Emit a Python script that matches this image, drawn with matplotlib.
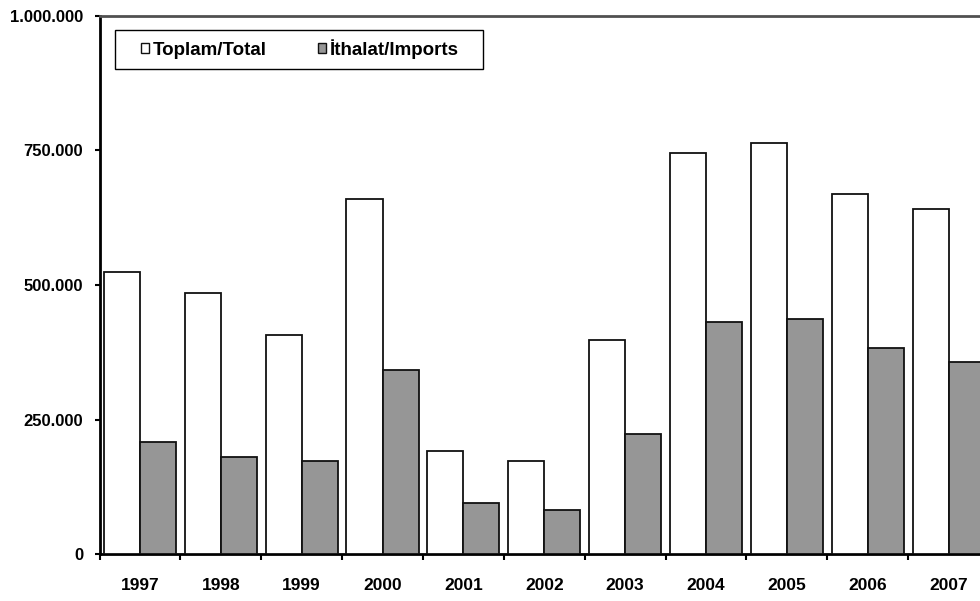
import numpy as np
import matplotlib
matplotlib.use("Agg")
import matplotlib.pyplot as plt
from matplotlib.patches import Rectangle
from matplotlib.ticker import FuncFormatter, FixedLocator

plt.rcParams['font.family'] = ['Liberation Sans', 'DejaVu Sans']
plt.rcParams['font.weight'] = 'bold'

years = ["1997", "1998", "1999", "2000", "2001", "2002", "2003", "2004", "2005", "2006", "2007"]
total = [523600, 485700, 406600, 660200, 192400, 173800, 397900, 744500, 763100, 668400, 641100]
imports = [208000, 181200, 173200, 341600, 94700, 82800, 223400, 431900, 436900, 383600, 357000]

W, H = 980, 601
fig = plt.figure(figsize=(W / 100, H / 100), dpi=100)
# le bord droit de l'axe depasse l'image (coupe comme dans l'original)
left, right, bottom, top = 99.5, 989.0, 554.3, 15.7
ax = fig.add_axes([left / W, 1 - bottom / H, (right - left) / W, (bottom - top) / H])

x = np.arange(len(years))
bw = 0.446
ax.bar(x + 0.5 - bw / 2, total, width=bw, color='white', edgecolor='#111111', lw=1.3,
       label="Toplam/Total", zorder=3)
ax.bar(x + 0.5 + bw / 2, imports, width=bw, color='#969696', edgecolor='#111111', lw=1.3,
       label="İthalat/Imports", zorder=3)

ax.set_xlim(0, len(years))
ax.set_ylim(0, 1000000)

# ticks x : traits entre les categories, labels au centre
ax.xaxis.set_major_locator(FixedLocator(np.arange(len(years) + 1)))
ax.xaxis.set_major_formatter(FuncFormatter(lambda v, p: ""))
ax.xaxis.set_minor_locator(FixedLocator(x + 0.5))
ax.set_xticklabels(years, minor=True)
ax.tick_params(axis='x', which='major', direction='out', length=4.5, width=1.5, color='black')
ax.tick_params(axis='x', which='minor', length=0, pad=17, labelsize=12.5)

ax.set_yticks([0, 250000, 500000, 750000, 1000000])
ax.yaxis.set_major_formatter(FuncFormatter(lambda v, p: f"{int(v):,}".replace(",", ".")))
ax.tick_params(axis='y', direction='out', length=3.8, width=1.5, pad=8, labelsize=12)

ax.spines['left'].set_linewidth(2)
ax.spines['bottom'].set_linewidth(2)
ax.spines['top'].set_color('#505050')
ax.spines['top'].set_linewidth(2)
ax.spines['right'].set_visible(False)

# cadre de la legende
fig.patches.append(Rectangle((115.3 / W, 1 - 69.3 / H), (482.7 - 115.3) / W, 39.3 / H,
                             transform=fig.transFigure, fill=False, edgecolor='black',
                             lw=1.0, zorder=5))
leg = fig.legend(loc='center left', bbox_to_anchor=(141 / W, 1 - 49.0 / H), ncol=2,
                 fontsize=13.5, frameon=False,
                 handlelength=0.43, handleheight=0.48, handletextpad=0.2,
                 columnspacing=2.75, borderpad=0, borderaxespad=0)
for h in leg.legend_handles:
    h.set_linewidth(1.0)

plt.savefig("out.png", dpi=100)
